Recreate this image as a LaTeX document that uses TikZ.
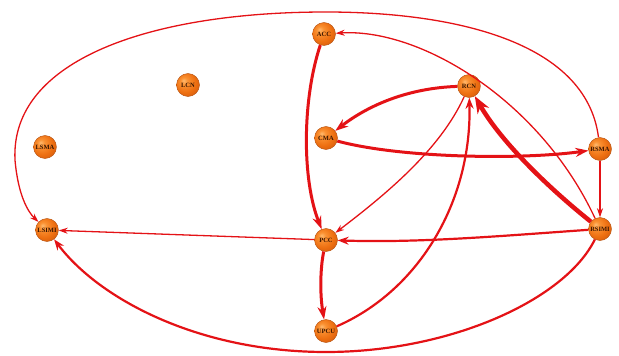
\documentclass[tikz,border=0pt]{standalone}
\usepackage{fontspec}
\setmainfont{Liberation Serif}
\usetikzlibrary{arrows.meta}
\definecolor{edgered}{RGB}{228,18,22}
\definecolor{rimor}{RGB}{180,80,15}
\definecolor{labtxt}{RGB}{55,20,0}
\pgfdeclareradialshading{orball}{\pgfqpoint{-10bp}{10bp}}{%
  color(0bp)=(rgb,255:red,255;green,185;blue,110);
  color(8bp)=(rgb,255:red,250;green,145;blue,50);
  color(22bp)=(rgb,255:red,238;green,112;blue,18);
  color(38bp)=(rgb,255:red,205;green,85;blue,10);
  color(55bp)=(rgb,255:red,150;green,60;blue,5)}
\tikzset{
  region/.style={circle, minimum size=23pt, inner sep=0pt, shading=orball,
    draw=rimor, line width=0.4pt, text=labtxt,
    font=\fontsize{6.5}{6.5}\selectfont\bfseries},
  lnthin/.style={draw=edgered, line width=1.3pt, -{Stealth[length=9pt,width=6pt]}},
  lnmid/.style={draw=edgered, line width=2.2pt, -{Stealth[length=11pt,width=8pt]}},
  lnthick/.style={draw=edgered, line width=3pt, -{Stealth[length=13pt,width=9pt]}},
  lnvthick/.style={draw=edgered, line width=4.5pt, -{Stealth[length=17pt,width=13pt]}}
}
\begin{document}
\begin{tikzpicture}[x=1pt,y=-1pt]
\useasboundingbox (0,0) rectangle (619,356);
\node[region] (ACC) at (324,34) {ACC};
\node[region] (LCN) at (188,85) {LCN};
\node[region] (RCN) at (469,86) {RCN};
\node[region] (LSMA) at (45,147) {LSMA};
\node[region] (CMA) at (326,138) {CMA};
\node[region] (RSMA) at (600,149) {RSMA};
\node[region] (LSIMI) at (47,230) {LSIMI};
\node[region] (PCC) at (326,240) {PCC};
\node[region] (RSIMI) at (600,229) {RSIMI};
\node[region] (UPCU) at (326,331) {UPCU};

\coordinate (topmid) at (326,12);
\coordinate (leftmid) at (15,160);
\coordinate (botmid) at (326,352);

% outer arc RSMA -> LSIMI
\draw[lnthin] (RSMA) .. controls (586,40) and (450,12) .. (topmid)
  .. controls (150,12) and (10,60) .. (leftmid)
  .. controls (18,195) and (28,212) .. (LSIMI);
% RSIMI -> ACC
\draw[lnthin] (RSIMI) .. controls (540,100) and (420,28) .. (ACC);
% ACC -> PCC
\draw[lnthick] (ACC) .. controls (302,100) and (302,180) .. (PCC);
% RCN -> CMA
\draw[lnthick] (RCN) .. controls (410,88) and (370,104) .. (CMA);
% CMA -> RSMA
\draw[lnthick] (CMA) .. controls (400,158) and (520,160) .. (RSMA);
% RCN -> PCC
\draw[lnthin] (RCN) .. controls (440,150) and (385,195) .. (PCC);
% UPCU -> RCN
\draw[lnmid] (UPCU) .. controls (420,290) and (472,200) .. (RCN);
% RSIMI -> RCN
\draw[lnvthick] (RSIMI) .. controls (545,185) and (500,140) .. (RCN);
% RSIMI -> PCC
\draw[lnmid] (RSIMI) .. controls (500,236) and (420,243) .. (PCC);
% PCC -> LSIMI
\draw[lnthin] (PCC) -- (LSIMI);
% PCC -> UPCU
\draw[lnthick] (PCC) .. controls (320,270) and (320,295) .. (UPCU);
% RSMA -> RSIMI
\draw[lnthin] (RSMA) -- (RSIMI);
% RSIMI -> LSIMI bottom arc
\draw[lnmid] (RSIMI) .. controls (565,300) and (450,352) .. (botmid)
  .. controls (200,352) and (100,300) .. (LSIMI);
\end{tikzpicture}
\end{document}
